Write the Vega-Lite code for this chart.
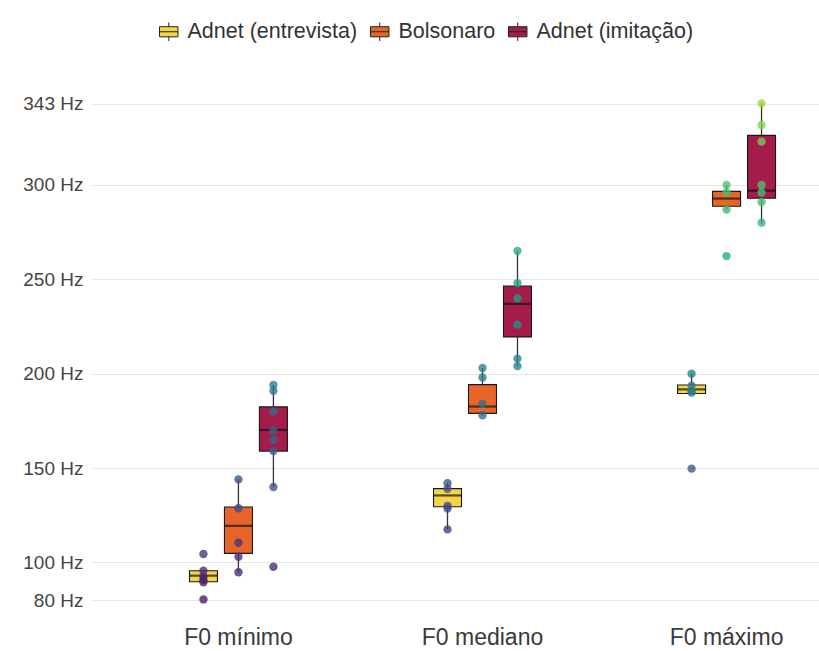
{
  "$schema": "https://vega.github.io/schema/vega-lite/v6.json",
  "width": 781,
  "height": 546,
  "autosize": {"type": "none"},
  "padding": {"left": 92, "top": 79, "right": 0, "bottom": 26},
  "background": "white",
  "datasets": {
    "boxes": [
      {"stat": "F0 mínimo", "group": "Adnet (entrevista)", "lower": 89.5, "q1": 89.8, "median": 93, "q3": 95.6, "upper": 96},
      {"stat": "F0 mínimo", "group": "Bolsonaro", "lower": 95, "q1": 104.8, "median": 119.4, "q3": 129.4, "upper": 144},
      {"stat": "F0 mínimo", "group": "Adnet (imitação)", "lower": 140, "q1": 159, "median": 170.2, "q3": 182.4, "upper": 194},
      {"stat": "F0 mediano", "group": "Adnet (entrevista)", "lower": 117.5, "q1": 129.5, "median": 135.5, "q3": 139.1, "upper": 142},
      {"stat": "F0 mediano", "group": "Bolsonaro", "lower": 178, "q1": 179, "median": 182.6, "q3": 194.2, "upper": 203},
      {"stat": "F0 mediano", "group": "Adnet (imitação)", "lower": 204, "q1": 219.5, "median": 237, "q3": 246.5, "upper": 265},
      {"stat": "F0 máximo", "group": "Adnet (entrevista)", "lower": 189.3, "q1": 189.5, "median": 191.7, "q3": 194, "upper": 200},
      {"stat": "F0 máximo", "group": "Bolsonaro", "lower": 287, "q1": 288.7, "median": 292.8, "q3": 296.6, "upper": 300},
      {"stat": "F0 máximo", "group": "Adnet (imitação)", "lower": 279.5, "q1": 293, "median": 297, "q3": 326.3, "upper": 343.5}
    ],
    "points": [
      {"stat": "F0 mínimo", "group": "Adnet (entrevista)", "hz": 104.5},
      {"stat": "F0 mínimo", "group": "Adnet (entrevista)", "hz": 95.6},
      {"stat": "F0 mínimo", "group": "Adnet (entrevista)", "hz": 92.5},
      {"stat": "F0 mínimo", "group": "Adnet (entrevista)", "hz": 90.7},
      {"stat": "F0 mínimo", "group": "Adnet (entrevista)", "hz": 89.5},
      {"stat": "F0 mínimo", "group": "Adnet (entrevista)", "hz": 80.4},
      {"stat": "F0 mínimo", "group": "Bolsonaro", "hz": 144},
      {"stat": "F0 mínimo", "group": "Bolsonaro", "hz": 128.7},
      {"stat": "F0 mínimo", "group": "Bolsonaro", "hz": 110.4},
      {"stat": "F0 mínimo", "group": "Bolsonaro", "hz": 103},
      {"stat": "F0 mínimo", "group": "Bolsonaro", "hz": 94.8},
      {"stat": "F0 mínimo", "group": "Adnet (imitação)", "hz": 194},
      {"stat": "F0 mínimo", "group": "Adnet (imitação)", "hz": 191},
      {"stat": "F0 mínimo", "group": "Adnet (imitação)", "hz": 180},
      {"stat": "F0 mínimo", "group": "Adnet (imitação)", "hz": 170},
      {"stat": "F0 mínimo", "group": "Adnet (imitação)", "hz": 165},
      {"stat": "F0 mínimo", "group": "Adnet (imitação)", "hz": 159},
      {"stat": "F0 mínimo", "group": "Adnet (imitação)", "hz": 140},
      {"stat": "F0 mínimo", "group": "Adnet (imitação)", "hz": 97.7},
      {"stat": "F0 mediano", "group": "Adnet (entrevista)", "hz": 142},
      {"stat": "F0 mediano", "group": "Adnet (entrevista)", "hz": 139},
      {"stat": "F0 mediano", "group": "Adnet (entrevista)", "hz": 130},
      {"stat": "F0 mediano", "group": "Adnet (entrevista)", "hz": 128.5},
      {"stat": "F0 mediano", "group": "Adnet (entrevista)", "hz": 117.5},
      {"stat": "F0 mediano", "group": "Bolsonaro", "hz": 203},
      {"stat": "F0 mediano", "group": "Bolsonaro", "hz": 198},
      {"stat": "F0 mediano", "group": "Bolsonaro", "hz": 184},
      {"stat": "F0 mediano", "group": "Bolsonaro", "hz": 178},
      {"stat": "F0 mediano", "group": "Adnet (imitação)", "hz": 265},
      {"stat": "F0 mediano", "group": "Adnet (imitação)", "hz": 248},
      {"stat": "F0 mediano", "group": "Adnet (imitação)", "hz": 240},
      {"stat": "F0 mediano", "group": "Adnet (imitação)", "hz": 226},
      {"stat": "F0 mediano", "group": "Adnet (imitação)", "hz": 208},
      {"stat": "F0 mediano", "group": "Adnet (imitação)", "hz": 204},
      {"stat": "F0 máximo", "group": "Adnet (entrevista)", "hz": 200},
      {"stat": "F0 máximo", "group": "Adnet (entrevista)", "hz": 193.7},
      {"stat": "F0 máximo", "group": "Adnet (entrevista)", "hz": 191},
      {"stat": "F0 máximo", "group": "Adnet (entrevista)", "hz": 190},
      {"stat": "F0 máximo", "group": "Adnet (entrevista)", "hz": 149.7},
      {"stat": "F0 máximo", "group": "Bolsonaro", "hz": 300},
      {"stat": "F0 máximo", "group": "Bolsonaro", "hz": 296},
      {"stat": "F0 máximo", "group": "Bolsonaro", "hz": 287},
      {"stat": "F0 máximo", "group": "Bolsonaro", "hz": 262.3},
      {"stat": "F0 máximo", "group": "Adnet (imitação)", "hz": 343.2},
      {"stat": "F0 máximo", "group": "Adnet (imitação)", "hz": 331.8},
      {"stat": "F0 máximo", "group": "Adnet (imitação)", "hz": 323},
      {"stat": "F0 máximo", "group": "Adnet (imitação)", "hz": 300},
      {"stat": "F0 máximo", "group": "Adnet (imitação)", "hz": 296},
      {"stat": "F0 máximo", "group": "Adnet (imitação)", "hz": 291},
      {"stat": "F0 máximo", "group": "Adnet (imitação)", "hz": 280}
    ]
  },
  "encoding": {
    "x": {
      "field": "stat", "type": "nominal",
      "sort": ["F0 mínimo", "F0 mediano", "F0 máximo"],
      "scale": {"paddingInner": 0.57, "paddingOuter": 0.385},
      "axis": {"title": null, "labelAngle": 0, "domain": false, "ticks": false, "grid": false,
               "labelFontSize": 23, "labelColor": "#3a3a3a", "labelPadding": 1}
    },
    "xOffset": {
      "field": "group", "type": "nominal",
      "sort": ["Adnet (entrevista)", "Bolsonaro", "Adnet (imitação)"],
      "scale": {"paddingInner": 0.2, "paddingOuter": 0.1}
    }
  },
  "layer": [
    {
      "data": {"name": "boxes"},
      "mark": {"type": "rule", "color": "#333333", "strokeWidth": 1.3},
      "encoding": {
        "y": {
          "field": "lower", "type": "quantitative",
          "scale": {"domain": [66.85, 356.15], "nice": false, "zero": false},
          "axis": {"title": null, "values": [80, 100, 150, 200, 250, 300, 343],
                   "labelExpr": "datum.value + ' Hz'", "domain": false, "ticks": false,
                   "grid": true, "gridColor": "#e6e6e6", "gridWidth": 1.2,
                   "labelFontSize": 19, "labelColor": "#444444", "labelPadding": 9}
        },
        "y2": {"field": "upper"}
      }
    },
    {
      "data": {"name": "boxes"},
      "mark": {"type": "bar", "stroke": "#1a1a1a", "strokeWidth": 1.1},
      "encoding": {
        "y": {"field": "q1", "type": "quantitative"},
        "y2": {"field": "q3"},
        "fill": {
          "field": "group", "type": "nominal",
          "sort": ["Adnet (entrevista)", "Bolsonaro", "Adnet (imitação)"],
          "scale": {"domain": ["Adnet (entrevista)", "Bolsonaro", "Adnet (imitação)"],
                    "range": ["#F4D449", "#E8652A", "#A51C4A"]},
          "legend": {
            "title": null, "orient": "none", "direction": "horizontal",
            "legendX": 66, "legendY": -58,
            "symbolType": "M-1,-0.55H1V0.55H-1Z M-1,0H1 M0,-0.55V-1 M0,0.55V1",
            "symbolSize": 340, "symbolStrokeColor": "#222222", "symbolStrokeWidth": 1,
            "labelFontSize": 21.5, "labelColor": "#333333", "labelOffset": 8, "columnPadding": 10,
            "labelLimit": 400
          }
        }
      }
    },
    {
      "data": {"name": "boxes"},
      "mark": {"type": "tick", "color": "#111111", "thickness": 2.2, "size": 28},
      "encoding": {
        "y": {"field": "median", "type": "quantitative"}
      }
    },
    {
      "data": {"name": "points"},
      "mark": {"type": "point", "filled": true, "size": 70, "opacity": 0.78},
      "encoding": {
        "y": {"field": "hz", "type": "quantitative"},
        "color": {
          "field": "hz", "type": "quantitative",
          "scale": {"scheme": {"name": "viridis", "extent": [0.06, 0.85]}, "domain": [80, 343]},
          "legend": null
        }
      }
    }
  ],
  "config": {
    "view": {"stroke": null},
    "font": "Liberation Sans",
    "axis": {"labelFont": "Liberation Sans"},
    "legend": {"labelFont": "Liberation Sans"}
  }
}
